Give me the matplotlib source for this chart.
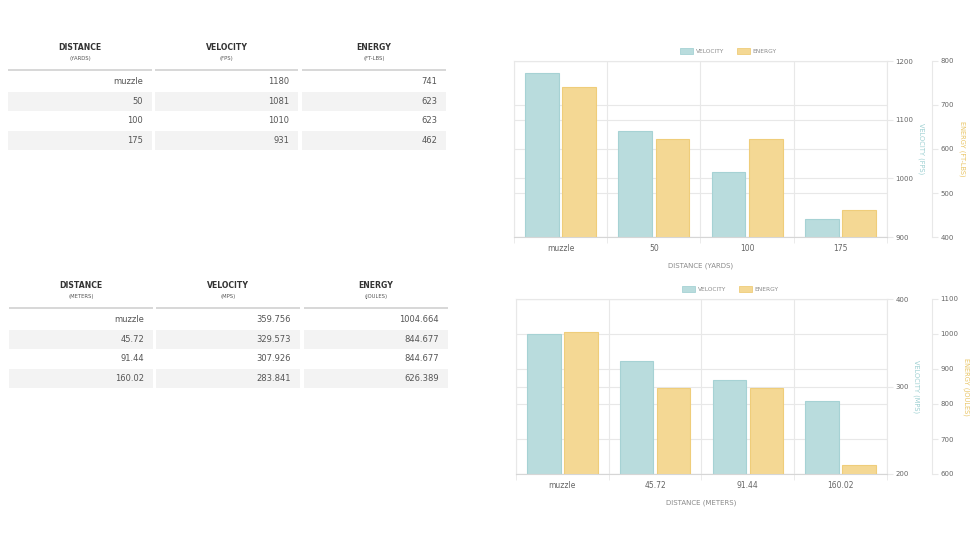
import numpy as np
import matplotlib
matplotlib.use("Agg")
import matplotlib.pyplot as plt
from matplotlib.patches import Rectangle, Patch

plt.rcParams["font.family"] = "DejaVu Sans"

# ---------------------------------------------------------------- data
yd_dist = ["muzzle", "50", "100", "175"]
yd_vel = [1180, 1081, 1010, 931]
yd_energy = [741, 623, 623, 462]

m_dist = ["muzzle", "45.72", "91.44", "160.02"]
m_vel = [359.756, 329.573, 307.926, 283.841]
m_energy = [1004.664, 844.677, 844.677, 626.389]

yd_heads = ["DISTANCE", "VELOCITY", "ENERGY"]
yd_units = ["(YARDS)", "(FPS)", "(FT-LBS)"]
m_units = ["(METERS)", "(MPS)", "(JOULES)"]

yd_vel_ticks = [900, 1000, 1100, 1200]
yd_en_ticks = [400, 500, 600, 700, 800]
m_vel_ticks = [200, 300, 400]
m_en_ticks = [600, 700, 800, 900, 1000, 1100]

# ---------------------------------------------------------------- style
W, H = 978, 550
TEAL, TEAL_EDGE = "#b9dcdd", "#a6d2d4"
GOLD, GOLD_EDGE = "#f4d894", "#efcd7a"
TEAL_TXT, GOLD_TXT = "#9ccfd1", "#e9c463"
GRID = "#e8e8e8"
TICK = "#666666"
ROW_BG = "#f3f3f3"


def px_rect(left, top, right, bottom):
    return [left / W, 1 - bottom / H, (right - left) / W, (bottom - top) / H]


def chart(fig, rect, cats, vel, energy, vticks, eticks, xlabel, vlabel, elabel, leg_x):
    x = np.arange(len(cats))
    xlim = (-0.5, len(cats) - 0.5)

    # energy grid lives on its own axes so it stays behind all bars
    ge = fig.add_axes(rect, zorder=0)
    ge.set_xlim(*xlim); ge.set_ylim(eticks[0], eticks[-1])
    ge.set_yticks(eticks)
    ge.grid(axis="y", color=GRID, lw=0.8)
    ge.tick_params(left=False, labelleft=False, bottom=False, labelbottom=False)
    for sp in ge.spines.values():
        sp.set_visible(False)
    ge.patch.set_visible(False)

    ax = fig.add_axes(rect, zorder=1)
    ax.patch.set_visible(False)
    ax2 = ax.twinx()
    ax2.set_zorder(2)
    ax2.patch.set_visible(False)

    ax.bar(x - 0.2, vel, 0.36, color=TEAL, edgecolor=TEAL_EDGE, lw=0.8, zorder=2)
    ax.set_xlim(*xlim); ax.set_ylim(vticks[0], vticks[-1])
    ax.set_yticks(vticks)
    ax.set_xticks(x, cats)
    ax.set_xticks(np.arange(-0.5, len(cats)), minor=True)
    ax.grid(axis="y", color=GRID, lw=0.8)
    ax.grid(axis="x", which="minor", color=GRID, lw=0.8)
    ax.set_axisbelow(True)
    ax.tick_params(axis="x", which="major", length=0, pad=5, labelsize=5.5, labelcolor=TICK)
    ax.tick_params(axis="x", which="minor", length=4, color=GRID)
    ax.yaxis.tick_right(); ax.yaxis.set_label_position("right")
    ax.tick_params(axis="y", length=4, color=GRID, labelsize=5, labelcolor=TICK, pad=2)
    for k, sp in ax.spines.items():
        sp.set_color(GRID); sp.set_linewidth(0.8)
    ax.spines["bottom"].set_color("#d6d6d6")
    ax.set_xlabel(xlabel, fontsize=5, color="#8a8a8a", labelpad=7)
    ax.set_ylabel(vlabel, rotation=270, fontsize=4.8, color=TEAL_TXT, labelpad=8)

    ax2.bar(x + 0.2, energy, 0.36, color=GOLD, edgecolor=GOLD_EDGE, lw=0.8, zorder=2)
    ax2.set_ylim(eticks[0], eticks[-1]); ax2.set_yticks(eticks)
    for k in ("left", "top", "bottom"):
        ax2.spines[k].set_visible(False)
    ax2.spines["right"].set_position(("outward", 32.5))
    ax2.spines["right"].set_color(GRID); ax2.spines["right"].set_linewidth(0.8)
    ax2.tick_params(axis="y", length=4, color=GRID, labelsize=5, labelcolor=TICK, pad=2)
    ax2.set_ylabel(elabel, rotation=270, fontsize=4.8, color=GOLD_TXT, labelpad=8)

    handles = [Patch(facecolor=TEAL, edgecolor=TEAL_EDGE, lw=0.6),
               Patch(facecolor=GOLD, edgecolor=GOLD_EDGE, lw=0.6)]
    leg = ax2.legend(handles, ["VELOCITY", "ENERGY"], loc="lower center",
                     bbox_to_anchor=(leg_x, 1.01), ncol=2, frameon=False,
                     fontsize=4.2, handlelength=2.3, handleheight=1.0,
                     columnspacing=2.2, handletextpad=0.4)
    for t in leg.get_texts():
        t.set_color("#8a8a8a")


def table(tab, cols, y_head, heads, units, rows):
    for (l, r), h, u in zip(cols, heads, units):
        c = (l + r) / 2
        tab.text(c, y_head, h, ha="center", va="center", fontsize=5.6,
                 fontweight="bold", color="#333333")
        tab.text(c, y_head + 10.5, u, ha="center", va="center", fontsize=3.8,
                 color="#555555")
        tab.plot([l, r], [y_head + 22, y_head + 22], color="#d4d4d4", lw=1.3,
                 solid_capstyle="butt")
    row_h = 19.5
    y0 = y_head + 24
    for i, row in enumerate(rows):
        top = y0 + i * row_h
        for (l, r), val in zip(cols, row):
            if i % 2 == 1:
                tab.add_patch(Rectangle((l, top), r - l, row_h, facecolor=ROW_BG,
                                        edgecolor="none"))
            tab.text(r - 9, top + row_h / 2, str(val), ha="right", va="center",
                     fontsize=6, color="#555555")


fig = plt.figure(figsize=(W / 100, H / 100), dpi=100, facecolor="white")

tab = fig.add_axes([0, 0, 1, 1], zorder=-5)
tab.set_xlim(0, W); tab.set_ylim(H, 0); tab.axis("off")

table(tab, [(8, 152), (155, 298), (302, 446)], 48, yd_heads, yd_units,
      list(zip(yd_dist, yd_vel, yd_energy)))
table(tab, [(9, 153), (156, 300), (304, 448)], 286, yd_heads, m_units,
      list(zip(m_dist, m_vel, m_energy)))

chart(fig, px_rect(514, 61, 887, 237), yd_dist, yd_vel, yd_energy,
      yd_vel_ticks, yd_en_ticks, "DISTANCE (YARDS)", "VELOCITY (FPS)",
      "ENERGY (FT-LBS)", 0.574)
chart(fig, px_rect(516, 299, 887, 474), m_dist, m_vel, m_energy,
      m_vel_ticks, m_en_ticks, "DISTANCE (METERS)", "VELOCITY (MPS)",
      "ENERGY (JOULES)", 0.577)

fig.savefig("out.png", dpi=100, facecolor="white")
